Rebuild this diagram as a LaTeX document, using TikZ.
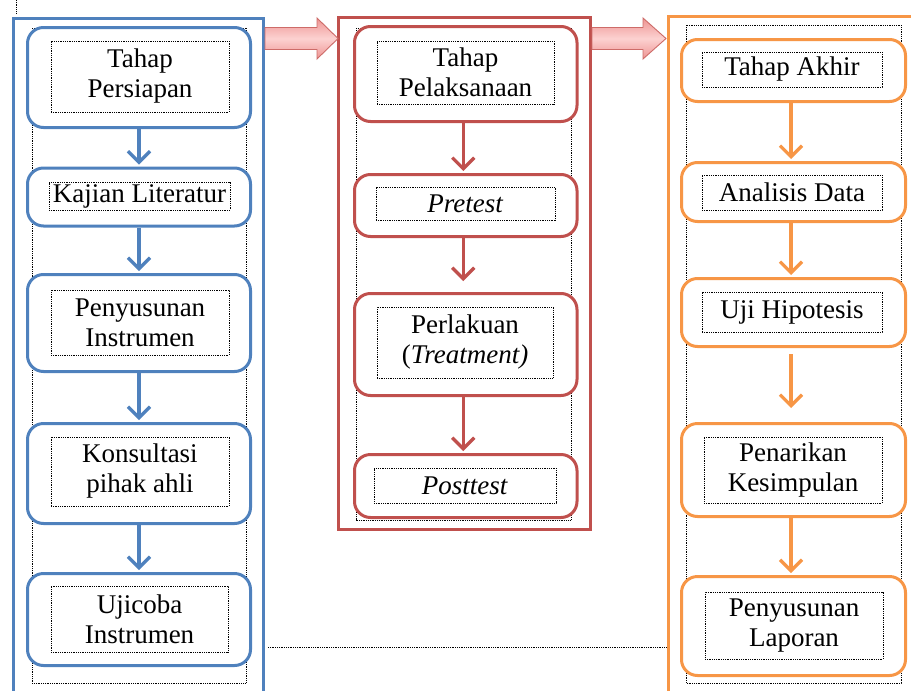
\documentclass[tikz,border=0pt]{standalone}
\usepackage{fontspec}
\setmainfont{Liberation Serif}
\usetikzlibrary{arrows.meta}
\definecolor{cblue}{HTML}{4F81BD}
\definecolor{cred}{HTML}{C0504D}
\definecolor{corange}{HTML}{F79646}
\definecolor{pinkA}{HTML}{FCD2D1}
\definecolor{pinkB}{HTML}{EE9492}
\definecolor{pinkEdge}{HTML}{CD6B68}
\begin{document}
\begin{tikzpicture}[x=1pt,y=-1pt,
  frame/.style={draw, line width=3pt},
  rbox/.style={draw, line width=3pt, rounded corners=16pt, fill=white, inner sep=0pt},
  tbox/.style={draw=black, line width=0.9pt, dash pattern=on 0.9pt off 0.9pt, inner sep=0pt,
    align=center, font=\fontsize{27}{30}\selectfont},
  col/.style={draw=black, line width=0.9pt, dash pattern=on 0.9pt off 0.9pt},
  flow/.style={line width=3.2pt, -{Straight Barb[length=11pt,width=22pt]}, shorten >=2pt},
  bigarrow/.style={draw=pinkEdge, line width=0.9pt, top color=pinkB, bottom color=pinkB, middle color=pinkA}
]
\useasboundingbox (0,0) rectangle (911,691);
\clip (0,0) rectangle (911,691);

% dotted columns
\draw[col] (32,28) rectangle (246,683);
\draw[col] (356,28) rectangle (571,520);
\draw[col] (686,25) rectangle (901,683);
\coordinate (tl1) at (16,0); \coordinate (tl2) at (16,13);
\draw[col] (tl1) -- (tl2);

% frames
\draw[frame, cblue] (13.5,18.5) rectangle (263.5,720);
\draw[frame, cred] (338.5,17.5) rectangle (590.5,529);
\draw[frame, corange] (668.5,16.5) rectangle (930,720);

% blue column
\node[rbox, draw=cblue, minimum width=223, minimum height=100] (b1) at (139,77.5) {};
\node[tbox, minimum width=178, minimum height=71] (t1) at (140,76.5) {Tahap\\Persiapan};
\node[rbox, draw=cblue, minimum width=223, minimum height=58] (b2) at (139,197) {};
\node[tbox, minimum width=181, minimum height=28] (t2) at (139.5,196) {Kajian Literatur};
\node[rbox, draw=cblue, minimum width=223, minimum height=97] (b3) at (139,323) {};
\node[tbox, minimum width=178, minimum height=65] (t3) at (140,322.5) {Penyusunan\\Instrumen};
\node[rbox, draw=cblue, minimum width=223, minimum height=100] (b4) at (139,473.5) {};
\node[tbox, minimum width=178, minimum height=69] (t4) at (140,471.5) {Konsultasi\\pihak ahli};
\node[rbox, draw=cblue, minimum width=223, minimum height=92] (b5) at (139,619.5) {};
\node[tbox, minimum width=177, minimum height=66] (t5) at (139.5,619) {Ujicoba\\Instrumen};

% red column
\node[rbox, draw=cred, minimum width=222.5, minimum height=95] (r1) at (465.75,74) {};
\node[tbox, minimum width=177, minimum height=63] (s1) at (465.5,72.5) {Tahap\\Pelaksanaan};
\node[rbox, draw=cred, minimum width=222.5, minimum height=62] (r2) at (465.75,205.5) {};
\node[tbox, minimum width=179, minimum height=33] (s2) at (465.5,203.5) {\textit{Pretest}};
\node[rbox, draw=cred, minimum width=222.5, minimum height=102] (r3) at (465.75,344.5) {};
\node[tbox, minimum width=176, minimum height=71] (s3) at (465,342.5) {Perlakuan\\(\textit{Treatment)}};
\node[rbox, draw=cred, minimum width=222.5, minimum height=63] (r4) at (465.75,486) {};
\node[tbox, minimum width=182, minimum height=35] (s4) at (465,485.5) {\textit{Posttest}};

% orange column
\node[rbox, draw=corange, minimum width=224, minimum height=62] (o1) at (793.5,70.5) {};
\node[tbox, minimum width=180, minimum height=35] (u1) at (792,69.5) {Tahap Akhir};
\node[rbox, draw=corange, minimum width=224, minimum height=59] (o2) at (793.5,192) {};
\node[tbox, minimum width=180, minimum height=35] (u2) at (792,192.5) {Analisis Data};
\node[rbox, draw=corange, minimum width=224, minimum height=68] (o3) at (793.5,312.5) {};
\node[tbox, minimum width=180, minimum height=40] (u3) at (792,312) {Uji Hipotesis};
\node[rbox, draw=corange, minimum width=224, minimum height=93] (o4) at (793.5,470) {};
\node[tbox, minimum width=178, minimum height=66] (u4) at (793,470) {Penarikan\\Kesimpulan};
\node[rbox, draw=corange, minimum width=224, minimum height=99] (o5) at (793.5,626) {};
\node[tbox, minimum width=178, minimum height=67] (u5) at (794,625.5) {Penyusunan\\Laporan};

% flow arrows
\draw[flow, cblue] (b1.south) -- (b2.north);
\draw[flow, cblue] (b2.south) -- (b3.north);
\draw[flow, cblue] (b3.south) -- (b4.north);
\draw[flow, cblue] (b4.south) -- (b5.north);
\draw[flow, cred] ([xshift=-2.5pt]r1.south) -- ([xshift=-2.5pt]r2.north);
\draw[flow, cred] ([xshift=-2.5pt]r2.south) -- ([xshift=-2.5pt,yshift=9pt]r3.north);
\draw[flow, cred] ([xshift=-2.5pt]r3.south) -- ([xshift=-2.5pt]r4.north);
\draw[flow, corange] ([xshift=-2.5pt]o1.south) -- ([xshift=-2.5pt]o2.north);
\draw[flow, corange] ([xshift=-2.5pt]o2.south) -- ([xshift=-2.5pt]o3.north);
\draw[flow, corange] ([xshift=-2.5pt,yshift=-6pt]o3.south) -- ([xshift=-2.5pt,yshift=12pt]o4.north);
\draw[flow, corange] ([xshift=-2.5pt]o4.south) -- ([xshift=-2.5pt]o5.north);

% big block arrows
\draw[bigarrow] (265,27.5) -- (317,27.5) -- (317,18) -- (338,38.5) -- (317,59) -- (317,49.5) -- (265,49.5) -- cycle;
\draw[bigarrow] (592,27.5) -- (643,27.5) -- (643,18) -- (666,38.5) -- (643,59) -- (643,49.5) -- (592,49.5) -- cycle;

% horizontal dotted line
\coordinate (h1) at (268,647); \coordinate (h2) at (667,647);
\draw[col] (h1) -- (h2);
\end{tikzpicture}
\end{document}
